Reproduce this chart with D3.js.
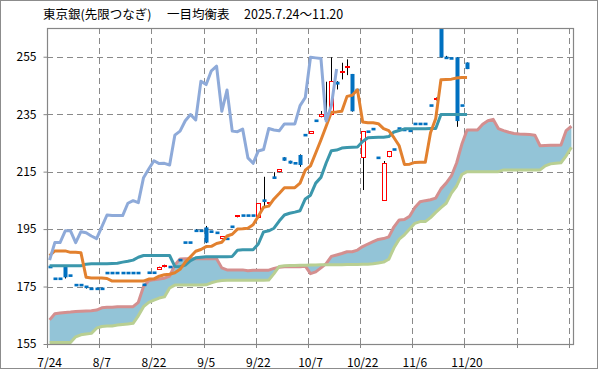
<!DOCTYPE html>
<html>
<head>
<meta charset="utf-8">
<script src="https://cdn.jsdelivr.net/npm/d3@7"></script>
<style>
  body { margin: 0; background: #fff; }
  svg { display: block; }
  text { font-family: "Noto Sans CJK JP", "Noto Sans", sans-serif; }
</style>
</head>
<body>
<div id="chart"></div>
<script>
// trading days shown (7/24 .. 11/20), the cloud runs 20 slots further
var dates = ["7/24","7/25","7/28","7/29","7/30","7/31","8/1","8/4","8/5","8/6",
  "8/7","8/8","8/12","8/13","8/14","8/15","8/18","8/19","8/20","8/21",
  "8/22","8/25","8/26","8/27","8/28","8/29","9/1","9/2","9/3","9/4",
  "9/5","9/8","9/9","9/10","9/11","9/12","9/16","9/17","9/18","9/19",
  "9/22","9/24","9/25","9/26","9/29","9/30","10/1","10/2","10/3","10/6",
  "10/7","10/8","10/9","10/10","10/14","10/15","10/16","10/17","10/20","10/21",
  "10/22","10/23","10/24","10/27","10/28","10/29","10/30","10/31","11/4","11/5",
  "11/6","11/7","11/10","11/11","11/12","11/13","11/14","11/17","11/18","11/19",
  "11/20"];
var slotCount = 101;

var open = [181.8,177.7,177.7,181.8,178.8,175.5,175.5,174.9,174.2,174.2,
  174.2,179.7,179.7,179.7,179.7,179.7,179.7,179.7,175.6,179.8,
  179.8,180.9,181.7,181.8,null,184.2,190.3,190.3,194.4,194.4,
  195.6,194.1,193.7,191.7,191.6,195.8,199.1,199.7,199.7,199.7,
  198.8,204.9,203.9,212.9,214.8,220.0,218.8,217.9,220.8,227.7,
  228.1,232.7,233.9,235.5,234.7,246.3,249.6,251.1,249.0,243.4,
  219.6,228.9,229.8,219.8,204.9,220.0,222.7,230.0,229.5,229.2,
  231.6,231.6,231.6,238.0,239.8,265.0,254.6,254.4,254.8,238.0,
  253.0];
var high = [181.8,177.7,177.7,181.8,178.8,175.5,175.5,174.9,174.2,174.2,
  174.2,179.7,179.7,179.7,179.7,179.7,179.7,179.7,175.6,179.8,
  179.8,181.9,182.6,181.8,null,184.2,190.3,190.3,195.0,194.4,
  196.1,194.1,193.7,192.6,191.6,195.8,199.9,199.7,199.7,199.7,
  204.0,213.2,204.4,214.8,215.9,220.0,218.8,217.9,221.0,227.7,
  229.1,232.7,236.1,246.3,254.8,246.5,252.9,254.1,249.0,243.4,
  229.1,228.9,229.8,219.8,218.7,222.2,222.7,230.0,229.5,229.2,
  231.6,231.6,231.6,238.0,240.8,265.0,255.3,254.4,254.8,238.0,
  253.0];
var low = [181.8,177.7,177.7,177.8,178.8,175.5,175.5,174.3,174.2,174.2,
  174.2,179.7,179.7,179.7,179.7,179.7,179.7,179.7,175.6,179.8,
  179.8,180.9,181.7,181.8,null,184.2,190.3,190.3,194.4,194.4,
  190.1,194.1,193.7,191.7,191.6,195.8,199.1,199.7,199.7,199.7,
  198.8,202.8,203.9,212.9,214.8,218.8,217.8,217.9,216.7,227.7,
  228.1,232.7,233.9,232.4,234.7,243.6,247.1,248.6,235.9,243.4,
  208.6,228.9,229.8,219.8,204.9,220.0,222.7,230.0,229.5,229.2,
  231.6,231.6,231.6,238.0,239.8,254.8,254.6,254.4,230.6,238.0,
  250.7];
var close = [181.8,177.7,177.7,178.2,178.8,175.5,175.5,174.9,174.2,174.2,
  174.2,179.7,179.7,179.7,179.7,179.7,179.7,179.7,175.6,179.8,
  179.8,181.9,182.6,181.8,null,184.2,190.3,190.3,194.4,194.4,
  190.3,194.1,193.7,192.6,191.6,195.8,199.9,199.7,199.7,199.7,
  204.0,204.9,204.4,212.9,215.9,218.8,217.8,217.9,217.3,227.7,
  229.1,232.7,234.9,233.0,246.5,245.3,250.1,251.7,236.0,243.4,
  229.1,228.9,229.8,219.8,217.9,222.2,222.7,230.0,229.5,229.2,
  231.6,231.6,231.6,238.0,240.8,254.8,254.6,254.4,232.6,238.0,
  250.7];

// 転換線
var tenkan = [185.8,187.4,187.4,187.4,186.9,186.9,186.8,178.2,178.0,178.0,
  178.0,177.8,176.9,176.9,176.9,176.9,176.9,176.9,176.9,177.6,
  177.7,178.6,179.1,179.3,179.8,181.0,183.5,185.4,187.3,187.9,
  188.9,189.0,190.0,190.4,192.6,193.2,195.0,195.1,195.3,196.5,
  199.5,202.6,203.0,205.5,207.4,209.4,209.4,209.4,211.0,215.5,
  217.0,221.5,226.0,230.8,235.7,235.8,236.0,241.2,241.6,243.5,
  232.3,232.0,232.0,231.7,230.0,229.3,226.8,224.0,217.5,217.6,
  218.2,218.3,218.3,228.5,233.5,247.0,247.1,247.2,247.6,247.8,
  247.8];
// 基準線
var kijun = [182.2,182.2,182.2,182.2,182.2,182.2,182.2,182.8,182.9,182.9,
  182.9,182.9,183.0,183.1,183.5,183.8,184.2,185.2,185.8,185.8,
  185.8,185.8,185.8,185.8,182.0,181.9,182.5,184.0,185.0,185.2,
  185.4,185.4,185.4,185.4,185.4,185.5,187.6,187.8,187.8,187.8,
  189.8,194.0,194.4,195.3,197.8,199.9,200.5,200.9,201.4,205.5,
  206.8,211.0,213.0,218.0,222.3,222.5,223.2,223.4,223.5,223.6,
  225.5,226.8,226.9,227.0,227.0,227.2,228.8,229.3,229.9,229.9,
  229.9,229.9,229.9,230.0,230.0,234.9,234.9,234.9,234.9,234.9,
  234.9];
// 遅行スパン
var chikou = [184.2,190.3,190.3,194.4,194.4,190.3,194.1,193.7,192.6,191.7,
  195.8,199.9,199.7,199.7,199.7,204.0,204.9,204.2,212.9,215.9,
  218.8,217.8,217.9,217.3,227.7,229.1,232.7,234.9,233.0,246.5,
  245.3,250.1,251.7,236.0,243.4,229.1,228.9,229.8,219.8,217.9,
  222.2,222.7,230.0,229.5,229.2,231.6,231.6,231.6,238.0,240.8,
  254.8,254.6,254.4,232.6,238.0,250.7];
// 先行スパン1
var spanA = [163.4,165.5,165.8,166.0,166.1,166.3,166.4,166.5,166.6,166.8,
  167.6,167.8,167.8,168.0,168.0,168.0,168.0,169.5,175.0,177.0,
  177.4,177.6,177.9,178.6,182.5,184.6,184.7,184.7,184.7,184.7,
  184.7,184.7,184.7,181.5,180.8,180.8,180.8,180.8,180.5,180.7,
  180.7,180.7,180.7,181.3,181.7,181.9,181.9,181.9,181.9,182.1,
  179.5,180.1,181.5,183.0,185.5,186.0,186.5,187.1,187.1,187.7,
  188.9,189.8,190.6,191.4,191.7,192.3,195.8,198.2,198.3,199.5,
  202.5,204.5,204.9,205.2,205.8,209.0,211.0,213.5,218.0,224.5,
  229.5,229.5,229.5,231.5,232.7,233.2,230.0,229.3,228.7,228.3,
  228.1,228.0,227.9,227.7,224.0,224.1,224.2,224.2,224.3,229.3,
  230.8];
// 先行スパン2
var spanB = [155.5,155.5,155.5,155.5,155.5,157.5,158.2,158.5,158.7,160.5,
  161.1,161.3,161.3,161.6,161.8,162.0,162.2,164.8,168.0,169.5,
  170.3,171.0,171.4,174.5,175.5,175.5,175.5,175.5,175.5,175.5,
  175.6,176.3,176.8,177.1,177.2,177.2,177.2,177.2,177.2,177.2,
  177.2,177.2,177.3,179.5,182.0,182.2,182.3,182.3,182.4,182.4,
  182.5,182.5,182.6,182.6,182.6,182.6,182.6,182.7,182.7,182.7,
  182.8,182.8,182.9,183.2,183.5,184.5,188.5,191.5,193.0,195.0,
  197.0,197.6,197.6,199.0,200.8,202.5,204.0,207.5,210.0,214.0,
  215.0,215.0,215.0,215.0,215.0,215.0,215.0,215.6,215.6,215.6,
  215.6,215.6,215.6,215.6,215.6,217.0,217.7,217.9,218.1,220.5,
  223.5];

var yTicks = [155, 175, 195, 215, 235, 255];

var width = 599, height = 370;
var plot = {left: 47, top: 28, right: 574, bottom: 344};

var svg = d3.select("#chart").append("svg")
    .attr("width", width)
    .attr("height", height);

var x = d3.scaleBand()
    .domain(d3.range(slotCount))
    .range([plot.left, plot.right]);
var bw = x.bandwidth();
var cx = function(i) { return x(i) + bw / 2; };

var y = d3.scaleLinear()
    .domain([155, 265])
    .range([plot.bottom, plot.top]);

// outer frame
svg.append("rect")
    .attr("x", 0.5).attr("y", 0.5)
    .attr("width", width - 2).attr("height", height - 2)
    .attr("fill", "#fff").attr("stroke", "#8c8c8c");

svg.append("clipPath").attr("id", "clip")
  .append("rect")
    .attr("x", plot.left).attr("y", plot.top)
    .attr("width", plot.right - plot.left).attr("height", plot.bottom - plot.top);

// dashed grid
var grid = svg.append("g")
    .attr("stroke", "#8a8a8a")
    .attr("stroke-width", 1)
    .attr("stroke-dasharray", "6,4");

grid.selectAll(".vg")
    .data(d3.range(10, slotCount, 10))
    .join("line")
    .attr("x1", d => Math.round(x(d)) + 0.5)
    .attr("x2", d => Math.round(x(d)) + 0.5)
    .attr("y1", plot.top)
    .attr("y2", plot.bottom);

grid.selectAll(".hg")
    .data(yTicks.slice(1))
    .join("line")
    .attr("x1", plot.left)
    .attr("x2", plot.right)
    .attr("y1", d => Math.round(y(d)) + 0.5)
    .attr("y2", d => Math.round(y(d)) + 0.5);

var g = svg.append("g").attr("clip-path", "url(#clip)");

// cloud
var slots = d3.range(slotCount);
g.append("path")
    .datum(slots)
    .attr("fill", "#93c4d7")
    .attr("d", d3.area()
        .x(d => cx(d))
        .y0(d => y(spanB[d]))
        .y1(d => y(spanA[d])));

function drawLine(values, color) {
  g.append("path")
      .datum(values.map((v, i) => [i, v]))
      .attr("fill", "none")
      .attr("stroke", color)
      .attr("stroke-width", 3)
      .attr("stroke-linejoin", "round")
      .attr("d", d3.line()
          .x(d => cx(d[0]))
          .y(d => y(d[1])));
}

drawLine(spanA, "#d48f8f");
drawLine(spanB, "#b9cf92");

// candles
var days = d3.range(dates.length).filter(i => close[i] != null);

g.append("g").selectAll("line")
    .data(days.filter(i => high[i] - low[i] > 0.3))
    .join("line")
    .attr("x1", i => Math.round(cx(i)) + 0.5)
    .attr("x2", i => Math.round(cx(i)) + 0.5)
    .attr("y1", i => y(high[i]))
    .attr("y2", i => y(low[i]))
    .attr("stroke", "#000")
    .attr("stroke-width", 1);

g.append("g").selectAll("rect")
    .data(days)
    .join("rect")
    .each(function(i) {
      var up = close[i] > open[i];
      var top = y(Math.max(open[i], close[i]));
      var bot = y(Math.min(open[i], close[i]));
      var h = bot - top;
      var el = d3.select(this);
      if (up) {
        var t = Math.round(top), b = Math.round(bot);
        el.attr("x", Math.round(cx(i)) - 1.5)
          .attr("width", 4)
          .attr("y", t + 0.5)
          .attr("height", Math.max(b - t - 1, 1))
          .attr("fill", "#fff")
          .attr("stroke", "#ff0000")
          .attr("stroke-width", 1);
      } else {
        if (h < 2.6) { top = (top + bot) / 2 - 1.3; h = 2.6; }
        el.attr("x", Math.round(cx(i)) - 1.5)
          .attr("width", 4)
          .attr("y", top)
          .attr("height", h)
          .attr("fill", "#0070c0");
      }
    });

drawLine(kijun, "#3b97ac");
drawLine(tenkan, "#e2812f");
drawLine(chikou, "#8eaad9");

// plot frame
svg.append("rect")
    .attr("x", plot.left + 0.5).attr("y", plot.top + 0.5)
    .attr("width", plot.right - plot.left - 1).attr("height", plot.bottom - plot.top)
    .attr("fill", "none")
    .attr("stroke", "#868686")
    .attr("stroke-width", 1.2);

// y axis
var yAxis = svg.append("g")
    .attr("transform", "translate(" + (plot.left + 0.5) + ",0)")
    .call(d3.axisLeft(y).tickValues(yTicks).tickSize(4).tickPadding(7));
yAxis.select(".domain").remove();
yAxis.selectAll("line").attr("stroke", "#868686");
yAxis.selectAll("text").attr("fill", "#000").style("font-size", "12px");

// x axis: marks on slot edges, labels on slot centres
svg.append("g").selectAll("line")
    .data(d3.range(0, slotCount, 10))
    .join("line")
    .attr("x1", d => Math.round(x(d)) + 0.5)
    .attr("x2", d => Math.round(x(d)) + 0.5)
    .attr("y1", plot.bottom)
    .attr("y2", plot.bottom + 4)
    .attr("stroke", "#868686");

var xAxis = svg.append("g")
    .attr("transform", "translate(0," + plot.bottom + ")")
    .call(d3.axisBottom(x)
        .tickValues(d3.range(0, dates.length, 10))
        .tickFormat(i => dates[i])
        .tickSize(0)
        .tickPadding(14));
xAxis.select(".domain").remove();
xAxis.selectAll("text").attr("fill", "#000").style("font-size", "12px");

// title
var title = svg.append("text")
    .attr("y", 19)
    .style("font-size", "12.5px")
    .attr("fill", "#000");
title.append("tspan").attr("x", 43).text("東京銀(先限つなぎ)");
title.append("tspan").attr("x", 167).text("一目均衡表");
title.append("tspan").attr("x", 244).text("2025.7.24～11.20");
</script>
</body>
</html>
